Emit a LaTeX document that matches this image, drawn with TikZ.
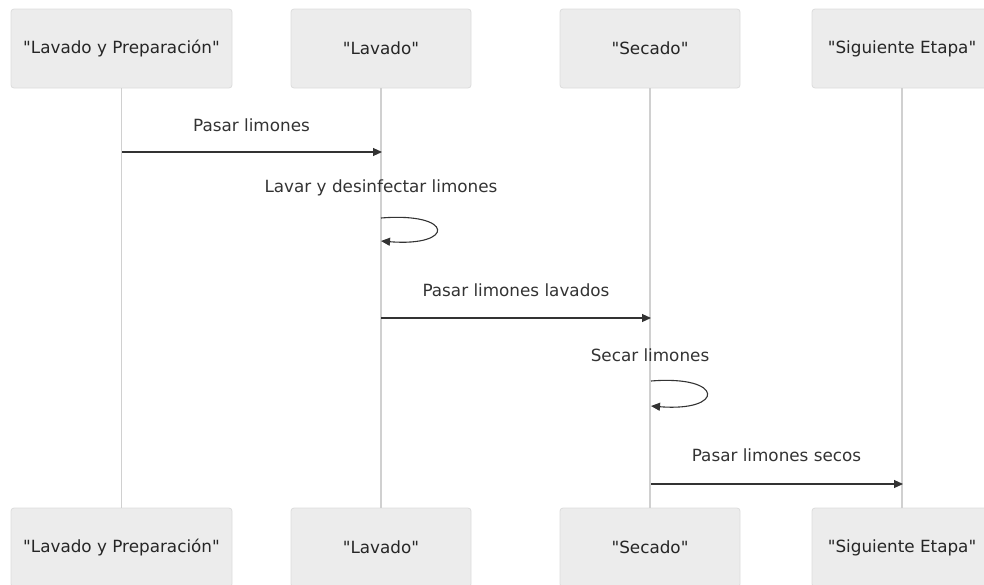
\documentclass[tikz,border=0pt]{standalone}
\usepackage{fontspec}
\setmainfont{DejaVu Sans}[Ligatures=TeXOff]
\usetikzlibrary{arrows.meta}
\definecolor{actfill}{HTML}{ECECEC}
\definecolor{actline}{HTML}{DCDCDC}
\definecolor{life}{HTML}{D0D0D0}
\definecolor{txt}{HTML}{333333}
\begin{document}
\begin{tikzpicture}[x=1pt,y=-1pt,
  actor/.style={draw=actline,fill=actfill,rounded corners=3pt,line width=0.8pt,
    minimum width=180pt,minimum height=79pt,inner sep=0pt,font=\fontsize{16.8}{19}\selectfont,text=black!85},
  lifeline/.style={draw=life,line width=1.6pt},
  msg/.style={draw=black!80,line width=1.1pt,-{Triangle[length=9pt,width=8pt]}},
  lbl/.style={font=\fontsize{16.8}{19}\selectfont,text=txt}]
\useasboundingbox (0,0) rectangle (984,584);
% actors top
\node[actor,minimum width=221pt] (a1) at (121.5,48.5) {"Lavado y Preparación"};
\node[actor] (a2) at (381,48.5) {"Lavado"};
\node[actor] (a3) at (650,48.5) {"Secado"};
\node[actor] (a4) at (902,48.5) {"Siguiente Etapa"};
% actors bottom
\node[actor,minimum width=221pt] (b1) at (121.5,547.5) {"Lavado y Preparación"};
\node[actor] (b2) at (381,547.5) {"Lavado"};
\node[actor] (b3) at (650,547.5) {"Secado"};
\node[actor] (b4) at (902,547.5) {"Siguiente Etapa"};
% lifelines
\draw[lifeline] (a1.south) -- (b1.north);
\draw[lifeline] (a2.south) -- (b2.north);
\draw[lifeline] (a3.south) -- (b3.north);
\draw[lifeline] (a4.south) -- (b4.north);
% message anchors
\coordinate (m1s) at (122,152); \coordinate (m1e) at (382,152);
\coordinate (s1s) at (381,218); \coordinate (s1e) at (381,241);
\coordinate (m2s) at (381,318); \coordinate (m2e) at (651,318);
\coordinate (s2s) at (651,381); \coordinate (s2e) at (651,406);
\coordinate (m3s) at (651,484); \coordinate (m3e) at (903,484);
% messages
\node[lbl] (t1) at (251.5,125) {Pasar limones};
\draw[msg] (m1s) -- (m1e);
\node[lbl] (t2) at (381,188) {Lavar y desinfectar limones};
\draw[msg] (s1s) .. controls (455,212) and (455,247) .. (s1e);
\node[lbl] (t3) at (516,290) {Pasar limones lavados};
\draw[msg] (m2s) -- (m2e);
\node[lbl] (t4) at (650,355) {Secar limones};
\draw[msg] (s2s) .. controls (725,375) and (725,412) .. (s2e);
\node[lbl] (t5) at (776.5,455) {Pasar limones secos};
\draw[msg] (m3s) -- (m3e);
\end{tikzpicture}
\end{document}
